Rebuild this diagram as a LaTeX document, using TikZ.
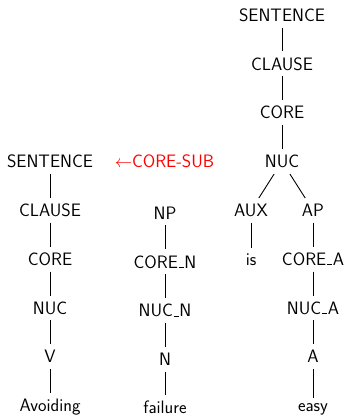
\documentclass[tikz,border=0pt]{standalone}
\newcommand\ubar{\leavevmode\kern.04em\vbox{\hrule height 0.9pt width.28em}\kern.04em}
\begin{document}
\begin{tikzpicture}[x=1pt,y=-1pt,
  lbl/.style={font=\fontsize{18}{20}\selectfont\sffamily, anchor=base, inner xsep=2pt, inner ysep=6pt, outer sep=0pt},
  edge/.style={line width=0.9pt}]
\useasboundingbox (0,0) rectangle (346,416);
% right tree
\node[lbl] (s1) at (282,21.3) {SENTENCE};
\node[lbl] (c1) at (282,70.1) {CLAUSE};
\node[lbl] (k1) at (282,118.9) {CORE};
\node[lbl] (n1) at (282,167.7) {NUC};
\node[lbl] (aux) at (251,216.5) {AUX};
\node[lbl] (ap) at (313,216.5) {AP};
\node[lbl] (is) at (251,265.3) {is};
\node[lbl] (ca) at (313,265.3) {CORE\ubar A};
\node[lbl] (na) at (313,314.1) {NUC\ubar A};
\node[lbl] (a) at (313,362.9) {A};
\node[lbl] (easy) at (313,411.7) {easy};
% left tree
\node[lbl] (s2) at (50,167.7) {SENTENCE};
\node[lbl] (c2) at (50,216.5) {CLAUSE};
\node[lbl] (k2) at (50,265.3) {CORE};
\node[lbl] (n2) at (50,314.1) {NUC};
\node[lbl] (v) at (50,362.9) {V};
\node[lbl] (avoid) at (50,411.7) {Avoiding};
% middle tree
\node[lbl, text=red] (sub) at (164.5,167.7) {$\leftarrow$CORE-SUB};
\node[lbl] (np) at (165,219.2) {NP};
\node[lbl] (cn) at (165,268) {CORE\ubar N};
\node[lbl] (nn) at (165,316.8) {NUC\ubar N};
\node[lbl] (nN) at (165,365.6) {N};
\node[lbl] (fail) at (165,413.4) {failure};
% edges
\draw[edge] (s1) -- (c1);
\draw[edge] (c1) -- (k1);
\draw[edge] (k1) -- (n1);
\draw[edge] (n1) -- (aux);
\draw[edge] (n1) -- (ap);
\draw[edge] (aux) -- (is);
\draw[edge] (ap) -- (ca);
\draw[edge] (ca) -- (na);
\draw[edge] (na) -- (a);
\draw[edge] (a) -- (easy);
\draw[edge] (s2) -- (c2);
\draw[edge] (c2) -- (k2);
\draw[edge] (k2) -- (n2);
\draw[edge] (n2) -- (v);
\draw[edge] (v) -- (avoid);
\draw[edge] (np) -- (cn);
\draw[edge] (cn) -- (nn);
\draw[edge] (nn) -- (nN);
\draw[edge] (nN) -- (fail);
\end{tikzpicture}
\end{document}
